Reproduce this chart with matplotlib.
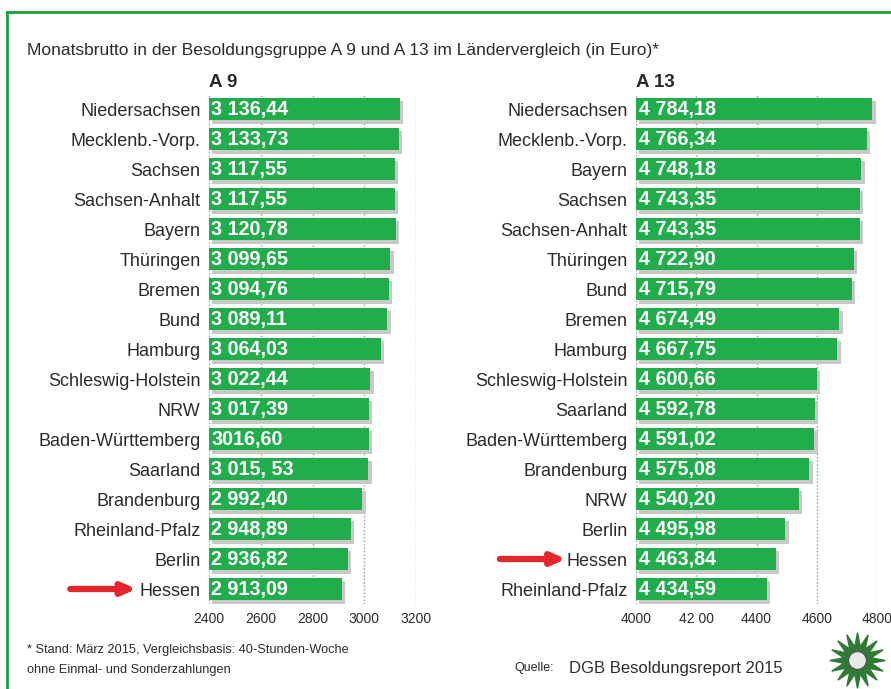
import matplotlib
matplotlib.use("Agg")
import matplotlib.pyplot as plt
import matplotlib.patheffects as pe
from matplotlib.lines import Line2D

plt.rcParams['font.family'] = ['Liberation Sans', 'DejaVu Sans']

# A 9
a9_states = ["Niedersachsen", "Mecklenb.-Vorp.", "Sachsen", "Sachsen-Anhalt", "Bayern",
             "Thüringen", "Bremen", "Bund", "Hamburg", "Schleswig-Holstein", "NRW",
             "Baden-Württemberg", "Saarland", "Brandenburg", "Rheinland-Pfalz", "Berlin", "Hessen"]
a9_values = [3136.44, 3133.73, 3117.55, 3117.55, 3120.78, 3099.65, 3094.76, 3089.11, 3064.03,
             3022.44, 3017.39, 3016.60, 3015.53, 2992.40, 2948.89, 2936.82, 2913.09]
a9_texts = ["3 136,44", "3 133,73", "3 117,55", "3 117,55", "3 120,78", "3 099,65", "3 094,76",
            "3 089,11", "3 064,03", "3 022,44", "3 017,39", "3016,60", "3 015, 53", "2 992,40",
            "2 948,89", "2 936,82", "2 913,09"]
a9_ticks = [2400, 2600, 2800, 3000, 3200]
a9_ticklabels = ["2400", "2600", "2800", "3000", "3200"]

# A 13
a13_states = ["Niedersachsen", "Mecklenb.-Vorp.", "Bayern", "Sachsen", "Sachsen-Anhalt",
              "Thüringen", "Bund", "Bremen", "Hamburg", "Schleswig-Holstein", "Saarland",
              "Baden-Württemberg", "Brandenburg", "NRW", "Berlin", "Hessen", "Rheinland-Pfalz"]
a13_values = [4784.18, 4766.34, 4748.18, 4743.35, 4743.35, 4722.90, 4715.79, 4674.49, 4667.75,
              4600.66, 4592.78, 4591.02, 4575.08, 4540.20, 4495.98, 4463.84, 4434.59]
a13_texts = ["4 784,18", "4 766,34", "4 748,18", "4 743,35", "4 743,35", "4 722,90", "4 715,79",
             "4 674,49", "4 667,75", "4 600,66", "4 592,78", "4 591,02", "4 575,08", "4 540,20",
             "4 495,98", "4 463,84", "4 434,59"]
a13_ticks = [4000, 4200, 4400, 4600, 4800]
a13_ticklabels = ["4000", "42 00", "4400", "4600", "4800"]

GREEN = '#22ad4c'
TEXT = '#2b2b2b'
W, H = 891, 689

fig = plt.figure(figsize=(8.91, 6.89), dpi=100)
fig.patch.set_facecolor('white')

# green frame (open on right / bottom like the scan)
fig.add_artist(Line2D([7/W, 7/W], [0, 1 - 12/H], color='#17a03f', lw=2, transform=fig.transFigure))
fig.add_artist(Line2D([7/W, 1], [1 - 12/H, 1 - 12/H], color='#17a03f', lw=2, transform=fig.transFigure))


def panel(rect, states, values, texts, ticks, ticklabels, header, arrow_row, arrow_x):
    ax = fig.add_axes(rect)
    n = len(states)
    y = list(range(n))
    bars = ax.barh(y, [v - ticks[0] for v in values], left=ticks[0], height=0.74,
                   color=GREEN, zorder=3)
    for b in bars:
        b.set_path_effects([pe.SimplePatchShadow(offset=(2.5, -2.5), shadow_rgbFace='#c8c8c8', alpha=1),
                            pe.Normal()])
    for yi, t in zip(y, texts):
        ax.text(ticks[0] + (ticks[-1] - ticks[0]) * 0.012, yi, t, color='white', fontsize=14.2,
                fontweight='bold', va='center', ha='left', zorder=4)
    ax.set_xlim(ticks[0], ticks[-1])
    ax.set_ylim(n - 0.5, -0.5)
    ax.set_yticks(y)
    ax.set_yticklabels(states, fontsize=13, color=TEXT)
    ax.set_xticks(ticks)
    ax.set_xticklabels(ticklabels, fontsize=10, color=TEXT)
    ax.tick_params(axis='y', length=0, pad=6)
    ax.tick_params(axis='x', length=0, pad=6)
    for s in ax.spines.values():
        s.set_visible(False)
    for t in ticks:
        ax.axvline(t, color='#9a9a9a', lw=1.0, ls=(0, (1, 1.5)), zorder=1)
    ax.text(0, 1.005, header, transform=ax.transAxes, fontsize=13.5, fontweight='bold',
            color=TEXT, ha='left', va='bottom')
    ax.annotate('', xy=(arrow_x[1], arrow_row), xytext=(arrow_x[0], arrow_row),
                xycoords=('axes fraction', 'data'), textcoords=('axes fraction', 'data'),
                arrowprops=dict(arrowstyle='-|>,head_length=0.8,head_width=0.35',
                                color='#e5262b', lw=4.5, shrinkA=0, shrinkB=0),
                annotation_clip=False)
    return ax


panel([209/W, 85/H, 207/W, 510/H], a9_states, a9_values, a9_texts, a9_ticks, a9_ticklabels,
      "A 9", a9_states.index("Hessen"), (-0.67, -0.35))
ax13 = panel([636/W, 85/H, 241/W, 510/H], a13_states, a13_values, a13_texts, a13_ticks,
             a13_ticklabels, "A 13", a13_states.index("Hessen"), (-0.565, -0.29))
ax13.get_xticklabels()[-1].set_horizontalalignment('center')

fig.text(27/W, 1 - 50/H, "Monatsbrutto in der Besoldungsgruppe A 9 und A 13 im Ländervergleich (in Euro)*",
         fontsize=12.5, color=TEXT, ha='left', va='center')
fig.text(27/W, 1 - 650/H, "* Stand: März 2015, Vergleichsbasis: 40-Stunden-Woche",
         fontsize=9.2, color=TEXT, ha='left', va='center')
fig.text(27/W, 1 - 670/H, "ohne Einmal- und Sonderzahlungen",
         fontsize=9.2, color=TEXT, ha='left', va='center')
fig.text(514/W, 1 - 668/H, "Quelle:", fontsize=9, color=TEXT, ha='left', va='center')
fig.text(569/W, 1 - 668/H, "DGB Besoldungsreport 2015", fontsize=12, color=TEXT,
         ha='left', va='center')

# police star logo
fig.add_artist(Line2D([857/W], [1 - 660/H], marker=(16, 1, 0), markersize=40, color='#2f7a35',
                      mec='#2f7a35', transform=fig.transFigure))
fig.add_artist(Line2D([857/W], [1 - 660/H], marker='o', markersize=13, color='#e8e8e8',
                      mec='#555555', mew=1, transform=fig.transFigure))

fig.savefig("out.png", dpi=100, facecolor='white')
